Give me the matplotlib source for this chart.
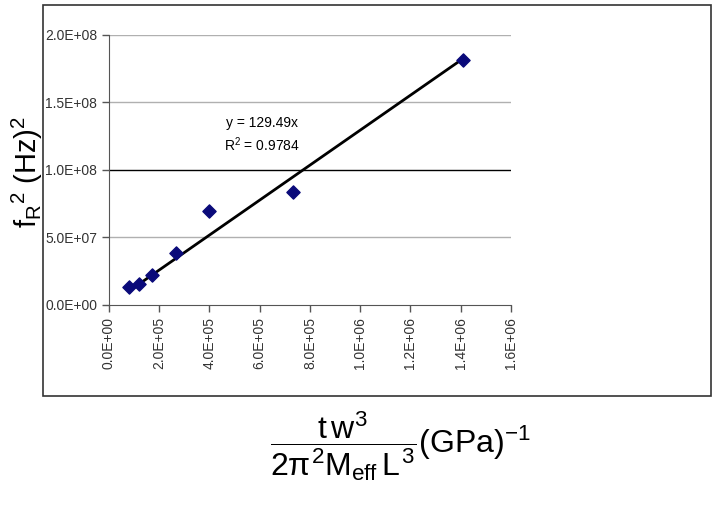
import numpy as np
import matplotlib
matplotlib.use("Agg")
import matplotlib.pyplot as plt
from matplotlib.patches import Rectangle

plt.rcParams['font.family'] = ['Liberation Sans', 'DejaVu Sans']
plt.rcParams['mathtext.fontset'] = 'custom'
plt.rcParams['mathtext.rm'] = 'Liberation Sans'
plt.rcParams['mathtext.it'] = 'Liberation Sans'
plt.rcParams['mathtext.bf'] = 'Liberation Sans:bold'

# data
x_vals = [8.0e4, 1.21e5, 1.72e5, 2.65e5, 3.97e5, 7.32e5, 1.41e6]
y_vals = [1.33e7, 1.56e7, 2.25e7, 3.83e7, 6.94e7, 8.4e7, 1.815e8]
slope = 129.49
r2 = 0.9784
x_ticks = [0, 2e5, 4e5, 6e5, 8e5, 1.0e6, 1.2e6, 1.4e6, 1.6e6]
y_ticks = [0, 5e7, 1.0e8, 1.5e8, 2.0e8]


def sci(v):
    return "%.1E" % v


fig = plt.figure(figsize=(7.15, 5.13), dpi=100)

# outer frame
fig.patches.append(Rectangle((0.060, 0.228), 0.934, 0.762, transform=fig.transFigure,
                             fill=False, edgecolor='#333333', linewidth=1.2))

ax = fig.add_axes([0.1524, 0.4055, 0.5622, 0.5263])

for yt in y_ticks[1:]:
    ax.axhline(yt, color='black' if yt == 1.0e8 else '#b0b0b0', linewidth=1, zorder=0)

xs = np.array([min(x_vals), max(x_vals)])
ax.plot(xs, slope * xs, color='black', linewidth=2, zorder=2)
ax.scatter(x_vals, y_vals, marker='D', s=45, color='#0a0a7a', edgecolors='#0a0a7a', zorder=3)

ax.text(6.09e5, 1.348e8, "y = 129.49x", ha='center', va='center', fontsize=10)
ax.text(6.09e5, 1.185e8, "R$^2$ = %.4f" % r2, ha='center', va='center', fontsize=10)

ax.set_xlim(0, 1.6e6)
ax.set_ylim(0, 2.0e8)
ax.set_xticks(x_ticks)
ax.set_xticklabels([sci(v) for v in x_ticks], rotation=90, fontsize=10, color='#333333')
ax.set_yticks(y_ticks)
ax.set_yticklabels([sci(v) for v in y_ticks], fontsize=10, color='#333333')
ax.tick_params(direction='out', length=5, width=1, color='#555555')

ax.spines['top'].set_visible(False)
ax.spines['right'].set_visible(False)
ax.spines['left'].set_color('#555555')
ax.spines['bottom'].set_color('#555555')

fig.text(0.038, 0.665, r"f$_\mathrm{R}$$^2$ (Hz)$^2$", rotation=90,
         ha='center', va='center', fontsize=21)

fig.text(0.56, 0.13, r"$\dfrac{t\,w^3}{2\pi^2 M_{\mathrm{eff}}\, L^3}$(GPa)$^{-1}$",
         ha='center', va='center', fontsize=23)

fig.savefig("out.png", dpi=100)
